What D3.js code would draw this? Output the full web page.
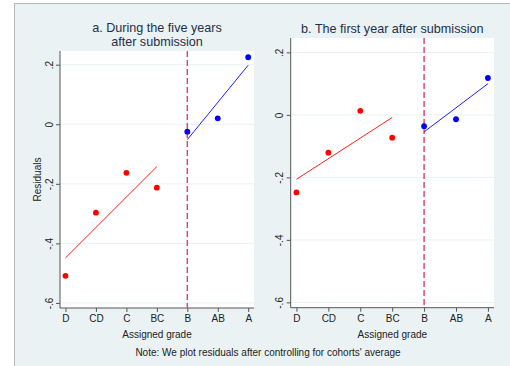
<!DOCTYPE html>
<html>
<head>
<meta charset="utf-8">
<script src="https://cdn.jsdelivr.net/npm/d3@7"></script>
<style>
  body { margin: 0; background: #fff; }
  svg { display: block; font-family: "Liberation Sans", Arial, sans-serif; }
</style>
</head>
<body>
<div id="chart"></div>
<script>
// grades on the x axis, residuals
const grades = ['D', 'CD', 'C', 'BC', 'B', 'AB', 'A'];
const residualsFiveYears = [-0.509, -0.297, -0.163, -0.213, -0.025, 0.020, 0.225];
const residualsFirstYear = [-0.248, -0.121, 0.013, -0.073, -0.036, -0.014, 0.118];
const yTicks = [-0.6, -0.4, -0.2, 0, 0.2];
const yTickLabels = ['-.6', '-.4', '-.2', '0', '.2'];
const cutoffGrade = 'B';

const W = 510, H = 366;
const bg = '#eaf2f3';
const font = '"Liberation Sans", Arial, sans-serif';

const svg = d3.select('#chart').append('svg')
    .attr('width', W)
    .attr('height', H);

// graph region + frame
svg.append('rect')
    .attr('x', 14.5).attr('y', 3.5)
    .attr('width', W).attr('height', H)
    .attr('fill', bg)
    .attr('stroke', '#b4b8bb');

// simple least squares fit over a slice of points
function fitLine(pts) {
  const mx = d3.mean(pts, d => d[0]);
  const my = d3.mean(pts, d => d[1]);
  const slope = d3.sum(pts, d => (d[0] - mx) * (d[1] - my)) / d3.sum(pts, d => (d[0] - mx) ** 2);
  const first = pts[0][0], last = pts[pts.length - 1][0];
  return [[first, my + slope * (first - mx)], [last, my + slope * (last - mx)]];
}

function drawPanel(cfg) {
  const x = d3.scaleLinear().domain([-0.18, 6.19]).range([cfg.left, cfg.right]);
  const y = d3.scaleLinear().domain([-0.617, 0.246]).range([cfg.bottom, cfg.top]);

  const g = svg.append('g');

  g.append('rect')
      .attr('x', cfg.left).attr('y', cfg.top)
      .attr('width', cfg.right - cfg.left)
      .attr('height', cfg.bottom - cfg.top)
      .attr('fill', '#fff');

  // horizontal grid
  g.selectAll('.grid').data(yTicks).enter().append('line')
      .attr('x1', cfg.left).attr('x2', cfg.right)
      .attr('y1', d => y(d)).attr('y2', d => y(d))
      .attr('stroke', bg).attr('stroke-width', 1);

  // y axis
  const yAxis = g.append('g')
      .attr('transform', `translate(${cfg.left},0)`)
      .call(d3.axisLeft(y).tickValues(yTicks).tickSize(4).tickFormat((d, i) => yTickLabels[i]));
  yAxis.select('.domain').attr('stroke', '#555').attr('d', `M0,${cfg.top}V${cfg.bottom}`);
  yAxis.selectAll('.tick line').attr('stroke', '#555');
  yAxis.selectAll('.tick text')
      .attr('transform', 'rotate(-90)')
      .attr('x', 0).attr('y', -7.5)
      .attr('dy', 0)
      .attr('text-anchor', 'middle')
      .attr('font-size', 10)
      .attr('font-family', font)
      .attr('fill', '#222');

  // x axis
  const xAxis = g.append('g')
      .attr('transform', `translate(0,${cfg.bottom})`)
      .call(d3.axisBottom(x).tickValues(d3.range(grades.length)).tickSize(4).tickFormat(i => grades[i]));
  xAxis.select('.domain').attr('stroke', '#555').attr('d', `M${cfg.left},0H${cfg.right}`);
  xAxis.selectAll('.tick line').attr('stroke', '#555');
  xAxis.selectAll('.tick text')
      .attr('y', 7)
      .attr('font-size', 10)
      .attr('font-family', font)
      .attr('fill', '#222');

  g.append('text')
      .attr('x', (cfg.left + cfg.right) / 2)
      .attr('y', cfg.bottom + 30)
      .attr('text-anchor', 'middle')
      .attr('font-size', 10)
      .attr('fill', '#222')
      .text('Assigned grade');

  // cutoff line
  const cut = grades.indexOf(cutoffGrade);
  g.append('line')
      .attr('x1', x(cut)).attr('x2', x(cut))
      .attr('y1', cfg.top).attr('y2', cfg.bottom)
      .attr('stroke', '#dc4a72')
      .attr('stroke-width', 1.5)
      .attr('stroke-dasharray', '6,3');

  const pts = cfg.values.map((v, i) => [i, v]);
  const below = pts.filter(d => d[0] < cut);
  const above = pts.filter(d => d[0] >= cut);
  const line = d3.line().x(d => x(d[0])).y(d => y(d[1]));

  g.append('path').attr('d', line(fitLine(below)))
      .attr('fill', 'none').attr('stroke', '#ff2020').attr('stroke-width', 1);
  g.append('path').attr('d', line(fitLine(above)))
      .attr('fill', 'none').attr('stroke', '#2020ff').attr('stroke-width', 1);

  g.selectAll('.dot').data(pts).enter().append('circle')
      .attr('cx', d => x(d[0]))
      .attr('cy', d => y(d[1]))
      .attr('r', 2.9)
      .attr('fill', d => d[0] < cut ? '#ff0000' : '#0000ff');

  // title (two-line titles get a bit more room between lines)
  const lineGap = cfg.title.length > 1 ? 14.6 : 0;
  const firstY = cfg.title.length > 1 ? 31.6 : 33;
  cfg.title.forEach((t, i) => {
    g.append('text')
        .attr('x', (cfg.left + cfg.right) / 2)
        .attr('y', firstY + i * lineGap)
        .attr('text-anchor', 'middle')
        .attr('font-size', 12.6)
        .attr('fill', '#1f2f4a')
        .text(t);
  });

  if (cfg.yLabel) {
    g.append('text')
        .attr('transform', `translate(${cfg.left - 19},${(cfg.top + cfg.bottom) / 2}) rotate(-90)`)
        .attr('text-anchor', 'middle')
        .attr('font-size', 10)
        .attr('fill', '#222')
        .text(cfg.yLabel);
  }
}

drawPanel({
  left: 60, right: 254, top: 51, bottom: 308,
  values: residualsFiveYears,
  title: ['a. During the five years', 'after submission'],
  yLabel: 'Residuals'
});

drawPanel({
  left: 290.7, right: 494, top: 38, bottom: 307.7,
  values: residualsFirstYear,
  title: ['b. The first year after submission']
});

svg.append('text')
    .attr('x', 268)
    .attr('y', 355.5)
    .attr('text-anchor', 'middle')
    .attr('font-size', 10)
    .attr('fill', '#222')
    .text("Note: We plot residuals after controlling for cohorts' average");
</script>
</body>
</html>
